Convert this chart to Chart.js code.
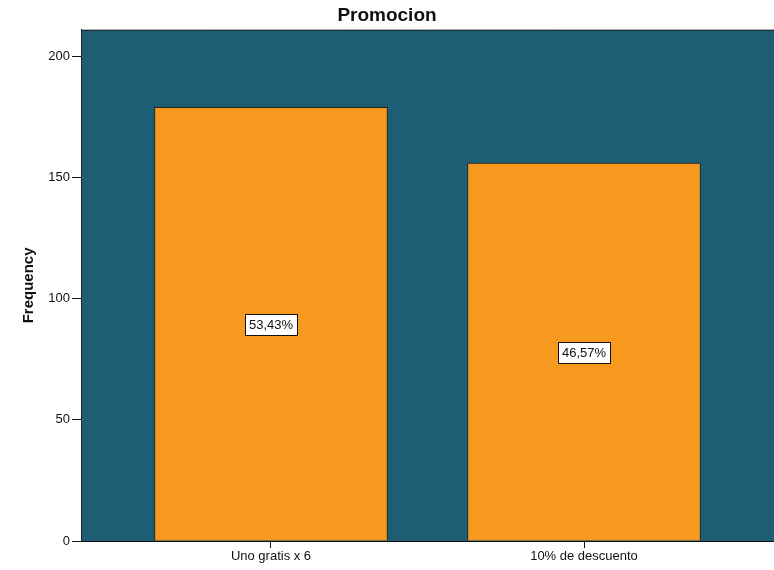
<!DOCTYPE html>
<html>
<head>
<meta charset="utf-8">
<script src="https://cdn.jsdelivr.net/npm/chart.js@4"></script>
<style>
  html, body { margin: 0; padding: 0; background: #fff; }
  #wrap { width: 774px; height: 570px; }
</style>
</head>
<body>
<div id="wrap"><canvas id="promo-chart" width="774" height="570"></canvas></div>
<script>
// datos
const categorias = ['Uno gratis x 6', '10% de descuento'];
const frecuencias = [179, 156];
const yTicks = [0, 50, 100, 150, 200];

const fondo = '#1D5E74';
const naranja = '#F8991F';
const total = frecuencias.reduce((a, b) => a + b, 0);
const fuente = '"Liberation Sans", Arial, sans-serif';

// fondo del area de grafico + borde arriba/izquierda
const fondoPlugin = {
    id: 'fondo',
    beforeDraw(chart) {
        const { ctx, chartArea: a } = chart;
        ctx.save();
        ctx.fillStyle = fondo;
        ctx.fillRect(a.left, a.top, a.right - a.left, a.bottom - a.top);
        ctx.strokeStyle = '#222';
        ctx.lineWidth = 1;
        ctx.beginPath();
        ctx.moveTo(a.left + 0.5, a.bottom);
        ctx.lineTo(a.left + 0.5, a.top + 0.5);
        ctx.lineTo(a.right, a.top + 0.5);
        ctx.stroke();
        ctx.restore();
    }
};

// etiquetas de porcentaje dentro de cada barra
const porcentajePlugin = {
    id: 'porcentaje',
    afterDatasetsDraw(chart) {
        const { ctx } = chart;
        const meta = chart.getDatasetMeta(0);
        ctx.save();
        ctx.font = '13px ' + fuente;
        ctx.textAlign = 'center';
        ctx.textBaseline = 'middle';
        meta.data.forEach((bar, i) => {
            const txt = (frecuencias[i] / total * 100).toFixed(2).replace('.', ',') + '%';
            const w = Math.round(ctx.measureText(txt).width + 8);
            const h = 21;
            const cx = bar.x;
            const cy = (bar.y + bar.base) / 2 + 1;
            const x0 = Math.round(cx - w / 2), y0 = Math.round(cy - h / 2);
            ctx.fillStyle = '#fff';
            ctx.fillRect(x0, y0, w, h);
            ctx.strokeStyle = '#111';
            ctx.lineWidth = 1;
            ctx.strokeRect(x0 + 0.5, y0 + 0.5, w, h);
            ctx.fillStyle = '#111';
            ctx.fillText(txt, cx, cy + 1);
        });
        ctx.restore();
    }
};

new Chart(document.getElementById('promo-chart'), {
    type: 'bar',
    data: {
        datasets: [{
            data: frecuencias.map((v, i) => ({ x: i, y: v })),
            backgroundColor: naranja,
            borderColor: '#222',
            borderWidth: 1,
            borderSkipped: 'bottom',
            barThickness: 233
        }]
    },
    options: {
        responsive: false,
        animation: false,
        layout: { padding: 0 },
        plugins: {
            legend: { display: false },
            tooltip: { enabled: false },
            title: {
                display: true,
                text: 'Promocion',
                color: '#111',
                font: { family: fuente, size: 19, weight: 'bold', lineHeight: 1.2 },
                padding: { top: 4, bottom: 3 }
            }
        },
        scales: {
            x: {
                type: 'linear',
                min: -0.607,
                max: 1.607,
                offset: false,
                afterBuildTicks(scale) {
                    scale.ticks = categorias.map((_, i) => ({ value: i }));
                },
                afterFit(scale) { scale.height = 29; },
                ticks: {
                    callback: (v) => categorias[v],
                    color: '#111',
                    font: { family: fuente, size: 13 },
                    padding: 1,
                    maxRotation: 0,
                    autoSkip: false
                },
                grid: {
                    offset: false,
                    drawOnChartArea: false,
                    drawTicks: true,
                    tickLength: 7,
                    tickColor: '#111'
                },
                border: { display: true, color: '#111', width: 1 }
            },
            y: {
                min: 0,
                max: 211,
                afterBuildTicks(scale) {
                    scale.ticks = yTicks.map(v => ({ value: v }));
                },
                afterFit(scale) { scale.width = 81; },
                ticks: {
                    color: '#111',
                    font: { family: fuente, size: 13 },
                    padding: 2
                },
                grid: {
                    drawOnChartArea: false,
                    drawTicks: true,
                    tickLength: 9,
                    tickColor: '#111'
                },
                border: { display: true, color: '#222', width: 1 },
                title: {
                    display: true,
                    text: 'Frequency',
                    color: '#111',
                    font: { family: fuente, size: 15, weight: 'bold' },
                    padding: { top: 20, bottom: 0 }
                }
            }
        }
    },
    plugins: [fondoPlugin, porcentajePlugin]
});
</script>
</body>
</html>
